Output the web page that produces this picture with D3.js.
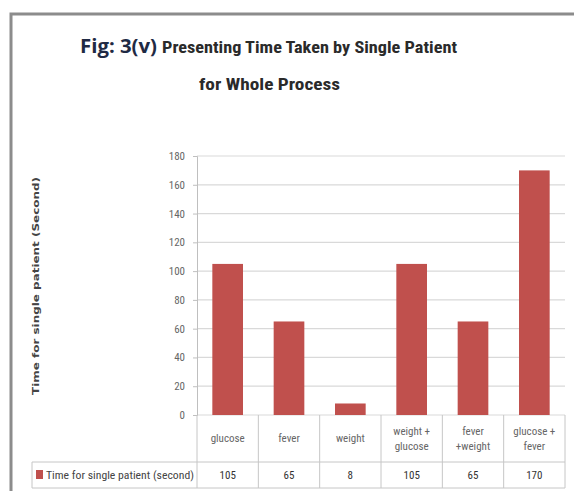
<!DOCTYPE html>
<html>
<head>
<meta charset="utf-8">
<script src="https://cdn.jsdelivr.net/npm/d3@7"></script>
<style>
  body { margin: 0; background: #fff; }
  svg { display: block; }
</style>
</head>
<body>
<svg id="chart" width="574" height="491"></svg>
<script>
  var categories = ["glucose", "fever", "weight", "weight + glucose", "fever +weight", "glucose + fever"];
  var categoryLines = [["glucose"], ["fever"], ["weight"], ["weight +", "glucose"], ["fever", "+weight"], ["glucose +", "fever"]];
  var values = [105, 65, 8, 105, 65, 170];
  var yTicks = [0, 20, 40, 60, 80, 100, 120, 140, 160, 180];
  var seriesName = "Time for single patient (second)";
  var yTitle = "Time for single patient (Second)";

  var narrow = "'Liberation Sans Narrow', 'Arial Narrow', 'Roboto Condensed', sans-serif";
  var svg = d3.select("#chart");

  // outer frame
  svg.append("path")
    .attr("d", "M11,491 L11,14 L574,14")
    .attr("fill", "none")
    .attr("stroke", "#8c8c8c")
    .attr("stroke-width", 3);

  // title
  svg.append("text")
    .attr("x", 80).attr("y", 53)
    .attr("textLength", 77).attr("lengthAdjust", "spacingAndGlyphs")
    .style("font-family", "'Open Sans', sans-serif")
    .style("font-weight", "bold")
    .style("font-size", "19px")
    .attr("fill", "#1f2a44")
    .text("Fig: 3(v)");
  svg.append("text")
    .attr("x", 162).attr("y", 53)
    .attr("textLength", 295).attr("lengthAdjust", "spacingAndGlyphs")
    .style("font-family", narrow).style("font-weight", "bold").style("font-size", "17px")
    .attr("fill", "#2a2a2a")
    .text("Presenting Time Taken by Single Patient");
  svg.append("text")
    .attr("x", 199).attr("y", 90)
    .attr("textLength", 141).attr("lengthAdjust", "spacingAndGlyphs")
    .style("font-family", narrow).style("font-weight", "bold").style("font-size", "17px")
    .attr("fill", "#2a2a2a")
    .text("for Whole Process");

  var margin = { left: 197, top: 156, right: 9, bottom: 76 };
  var width = 574 - margin.left - margin.right;
  var height = 491 - margin.top - margin.bottom;

  var x = d3.scaleBand().domain(categories).range([0, width]).paddingInner(0.5).paddingOuter(0.25);
  var cols = d3.scaleBand().domain(categories).range([0, width]);
  var y = d3.scaleLinear().domain([0, 180]).range([height, 0]);

  var g = svg.append("g").attr("transform", "translate(" + margin.left + "," + margin.top + ")");

  // grid
  g.selectAll("line.grid").data(yTicks).enter().append("line")
    .attr("class", "grid")
    .attr("x1", 0).attr("x2", width)
    .attr("y1", function (d) { return y(d); }).attr("y2", function (d) { return y(d); })
    .attr("stroke", "#d9d9d9").attr("stroke-width", 1.2);

  var yAxis = d3.axisLeft(y).tickValues(yTicks).tickSize(4).tickPadding(8);
  var yAxisG = g.append("g").call(yAxis);
  yAxisG.select(".domain").attr("stroke", "#bfbfbf");
  yAxisG.selectAll(".tick line").attr("stroke", "#bfbfbf");
  yAxisG.selectAll(".tick text")
    .style("font-family", narrow).style("font-size", "11px").attr("fill", "#666");

  // bars
  g.selectAll("rect.bar").data(values).enter().append("rect")
    .attr("class", "bar")
    .attr("x", function (d, i) { return x(categories[i]); })
    .attr("width", x.bandwidth())
    .attr("y", function (d) { return y(d); })
    .attr("height", function (d) { return height - y(d); })
    .attr("fill", "#c0504d");

  // data table
  var row1 = height + 47;
  var row2 = height + 73;
  var border = "#c6c6c6";
  var tbl = g.append("g");
  tbl.append("line").attr("x1", 0).attr("x2", width).attr("y1", row1).attr("y2", row1).attr("stroke", border);
  tbl.append("line").attr("x1", -165).attr("x2", width).attr("y1", row2).attr("y2", row2).attr("stroke", border);
  tbl.append("line").attr("x1", -165).attr("x2", 0).attr("y1", row1).attr("y2", row1).attr("stroke", border);
  tbl.append("line").attr("x1", -165).attr("x2", -165).attr("y1", row1).attr("y2", row2).attr("stroke", border);
  tbl.append("line").attr("x1", 0).attr("x2", 0).attr("y1", height).attr("y2", row2).attr("stroke", border);
  tbl.selectAll("line.col").data(categories).enter().append("line")
    .attr("class", "col")
    .attr("x1", function (d) { return cols(d) + cols.bandwidth(); })
    .attr("x2", function (d) { return cols(d) + cols.bandwidth(); })
    .attr("y1", height).attr("y2", row2)
    .attr("stroke", border);

  var catText = tbl.selectAll("text.cat").data(categories).enter().append("text")
    .attr("class", "cat")
    .attr("text-anchor", "middle")
    .style("font-family", narrow).style("font-size", "11px")
    .attr("fill", "#666");
  catText.each(function (d, i) {
    var lines = categoryLines[i];
    var cx = cols(d) + cols.bandwidth() / 2;
    var startY = height + 27 - (lines.length - 1) * 7;
    d3.select(this).selectAll("tspan").data(lines).enter().append("tspan")
      .attr("x", cx)
      .attr("y", function (l, j) { return startY + j * 15; })
      .text(function (l) { return l; });
  });

  tbl.selectAll("text.val").data(values).enter().append("text")
    .attr("class", "val")
    .attr("text-anchor", "middle")
    .attr("x", function (d, i) { return cols(categories[i]) + cols.bandwidth() / 2; })
    .attr("y", row1 + 17)
    .style("font-family", narrow).style("font-size", "11px")
    .attr("fill", "#333")
    .text(function (d) { return d; });

  // legend key in table
  tbl.append("rect")
    .attr("x", -161).attr("y", row1 + 8).attr("width", 7).attr("height", 9)
    .attr("fill", "#c0504d");
  tbl.append("text")
    .attr("x", -151).attr("y", row1 + 17)
    .attr("textLength", 148).attr("lengthAdjust", "spacingAndGlyphs")
    .style("font-family", narrow).style("font-size", "11px")
    .attr("fill", "#444")
    .text(seriesName);

  // y title
  svg.append("text")
    .attr("transform", "translate(39,286) rotate(-90)")
    .attr("text-anchor", "middle")
    .attr("textLength", 218).attr("lengthAdjust", "spacingAndGlyphs")
    .style("font-family", "'DejaVu Sans', sans-serif").style("font-weight", "bold").style("font-size", "9.5px")
    .attr("fill", "#444")
    .text(yTitle);
</script>
</body>
</html>
